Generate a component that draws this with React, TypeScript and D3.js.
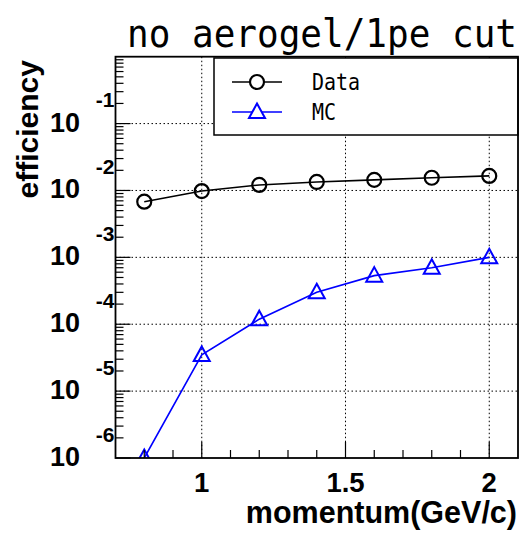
import React from "react";
import * as d3 from "d3";

// Momentum points (GeV/c) and efficiencies
const momentum = [0.8, 1.0, 1.2, 1.4, 1.6, 1.8, 2.0];
const dataEff = [6.8e-3, 9.8e-3, 1.21e-2, 1.34e-2, 1.44e-2, 1.55e-2, 1.65e-2];
const mcEff = [1.0e-6, 3.48e-5, 1.19e-4, 3.0e-4, 5.33e-4, 7.0e-4, 1.0e-3];

const xTickLabels = [1, 1.5, 2];
const yDecadeExponents = [-6, -5, -4, -3, -2, -1];
const legendLabels = ["Data", "MC"];

const W = 523;
const H = 536;
const frame = { left: 115.5, right: 518, top: 56.7, bottom: 458 };

const labelFont = "'Liberation Sans', Arial, Helvetica, sans-serif";
const monoFont = "'DejaVu Sans Mono', 'Liberation Mono', monospace";

const trianglePath = "M0,-8.5L8,6L-8,6Z";

export default function App() {
  const x = d3.scaleLinear().domain([0.7, 2.1]).range([frame.left, frame.right]);
  const y = d3.scaleLog().domain([1e-6, 1]).range([frame.bottom, frame.top]);

  const minorX = d3.range(8, 21).map((v) => v / 10).filter((v) => !xTickLabels.some((m) => Math.abs(m - v) < 1e-9));
  const minorY: number[] = [];
  for (let e = -6; e < 0; e++) {
    for (let k = 2; k <= 9; k++) minorY.push(k * Math.pow(10, e));
  }

  const dataPts = momentum.map((m, i) => [m, dataEff[i]] as [number, number]);
  const mcPts = momentum.map((m, i) => [m, mcEff[i]] as [number, number]);
  const line = d3
    .line<[number, number]>()
    .x((d) => x(d[0]))
    .y((d) => y(d[1]));

  const grid = { stroke: "#000", strokeWidth: 1, strokeDasharray: "1.5 2.5" };

  return (
    <svg width={W} height={H} style={{ position: "absolute", left: 0, top: 0, background: "#fff" }}>
      <defs>
        <clipPath id="plotArea">
          <rect x={frame.left} y={frame.top} width={frame.right - frame.left} height={frame.bottom - frame.top} />
        </clipPath>
      </defs>
      <rect x={0} y={0} width={W} height={H} fill="#fff" />

      {/* grid */}
      {xTickLabels.map((v) => (
        <line key={"gx" + v} x1={x(v)} x2={x(v)} y1={frame.top} y2={frame.bottom} {...grid} />
      ))}
      {yDecadeExponents.slice(1).map((e) => (
        <line key={"gy" + e} x1={frame.left} x2={frame.right} y1={y(Math.pow(10, e))} y2={y(Math.pow(10, e))} {...grid} />
      ))}

      {/* series */}
      <g clipPath="url(#plotArea)">
        <path d={line(dataPts) || ""} fill="none" stroke="#000" strokeWidth={1.6} />
        <path d={line(mcPts) || ""} fill="none" stroke="#0000ff" strokeWidth={1.6} />
        {dataPts.map((d, i) => (
          <circle key={"dc" + i} cx={x(d[0])} cy={y(d[1])} r={7} fill="none" stroke="#000" strokeWidth={2.2} />
        ))}
        {mcPts.map((d, i) => (
          <path key={"mt" + i} d={trianglePath} transform={`translate(${x(d[0])},${y(d[1])})`} fill="none" stroke="#0000ff" strokeWidth={2} />
        ))}
      </g>

      {/* legend */}
      <g>
        <rect x={214} y={58} width={304} height={77} fill="#fff" stroke="#000" strokeWidth={1.5} />
        <line x1={232} x2={282} y1={82} y2={82} stroke="#000" strokeWidth={1.6} />
        <circle cx={257} cy={82} r={7} fill="#fff" stroke="#000" strokeWidth={2.2} />
        <text x={312} y={90} fontFamily={monoFont} fontSize={20} transform="translate(312,90) scale(1,1.15) translate(-312,-90)">{legendLabels[0]}</text>
        <line x1={232} x2={282} y1={112} y2={112} stroke="#0000ff" strokeWidth={1.6} />
        <path d={trianglePath} transform="translate(257,112)" fill="#fff" stroke="#0000ff" strokeWidth={2} />
        <text x={312} y={120} fontFamily={monoFont} fontSize={20} transform="translate(312,120) scale(1,1.15) translate(-312,-120)">{legendLabels[1]}</text>
      </g>

      {/* frame */}
      <rect x={frame.left} y={frame.top} width={frame.right - frame.left} height={frame.bottom - frame.top} fill="none" stroke="#000" strokeWidth={1.8} />

      {/* x ticks */}
      {xTickLabels.map((v) => (
        <line key={"xM" + v} x1={x(v)} x2={x(v)} y1={frame.bottom} y2={frame.bottom - 16} stroke="#000" strokeWidth={1.2} />
      ))}
      {minorX.map((v) => (
        <line key={"xm" + v} x1={x(v)} x2={x(v)} y1={frame.bottom} y2={frame.bottom - 8} stroke="#000" strokeWidth={1.2} />
      ))}
      {xTickLabels.map((v) => (
        <text key={"xl" + v} x={x(v)} y={492} textAnchor="middle" fontFamily={labelFont} fontWeight="bold" fontSize={27.5}>
          {String(v)}
        </text>
      ))}

      {/* y ticks */}
      {yDecadeExponents.map((e) => (
        <line key={"yM" + e} x1={frame.left} x2={frame.left + 15} y1={y(Math.pow(10, e))} y2={y(Math.pow(10, e))} stroke="#000" strokeWidth={1.2} />
      ))}
      {minorY.map((v, i) => (
        <line key={"ym" + i} x1={frame.left} x2={frame.left + 8} y1={y(v)} y2={y(v)} stroke="#000" strokeWidth={1.2} />
      ))}
      {yDecadeExponents.map((e) => {
        const ty = y(Math.pow(10, e));
        return (
          <g key={"yl" + e} fontFamily={labelFont} fontWeight="bold">
            <text x={80} y={ty + 8} textAnchor="end" fontSize={27}>10</text>
            <text x={114.5} y={ty - 16.5} textAnchor="end" fontSize={21}>{String(e)}</text>
          </g>
        );
      })}

      {/* axis titles */}
      <text x={517} y={523} textAnchor="end" fontFamily={labelFont} fontWeight="bold" fontSize={30.5}>
        momentum(GeV/c)
      </text>
      <text transform="translate(38,60) rotate(-90)" textAnchor="end" fontFamily={labelFont} fontWeight="bold" fontSize={30}>
        efficiency
      </text>

      {/* title */}
      <text x={127} y={47} fontFamily={monoFont} fontSize={36} transform="translate(127,47) scale(1,1.08) translate(-127,-47)">
        no aerogel/1pe cut
      </text>
    </svg>
  );
}
